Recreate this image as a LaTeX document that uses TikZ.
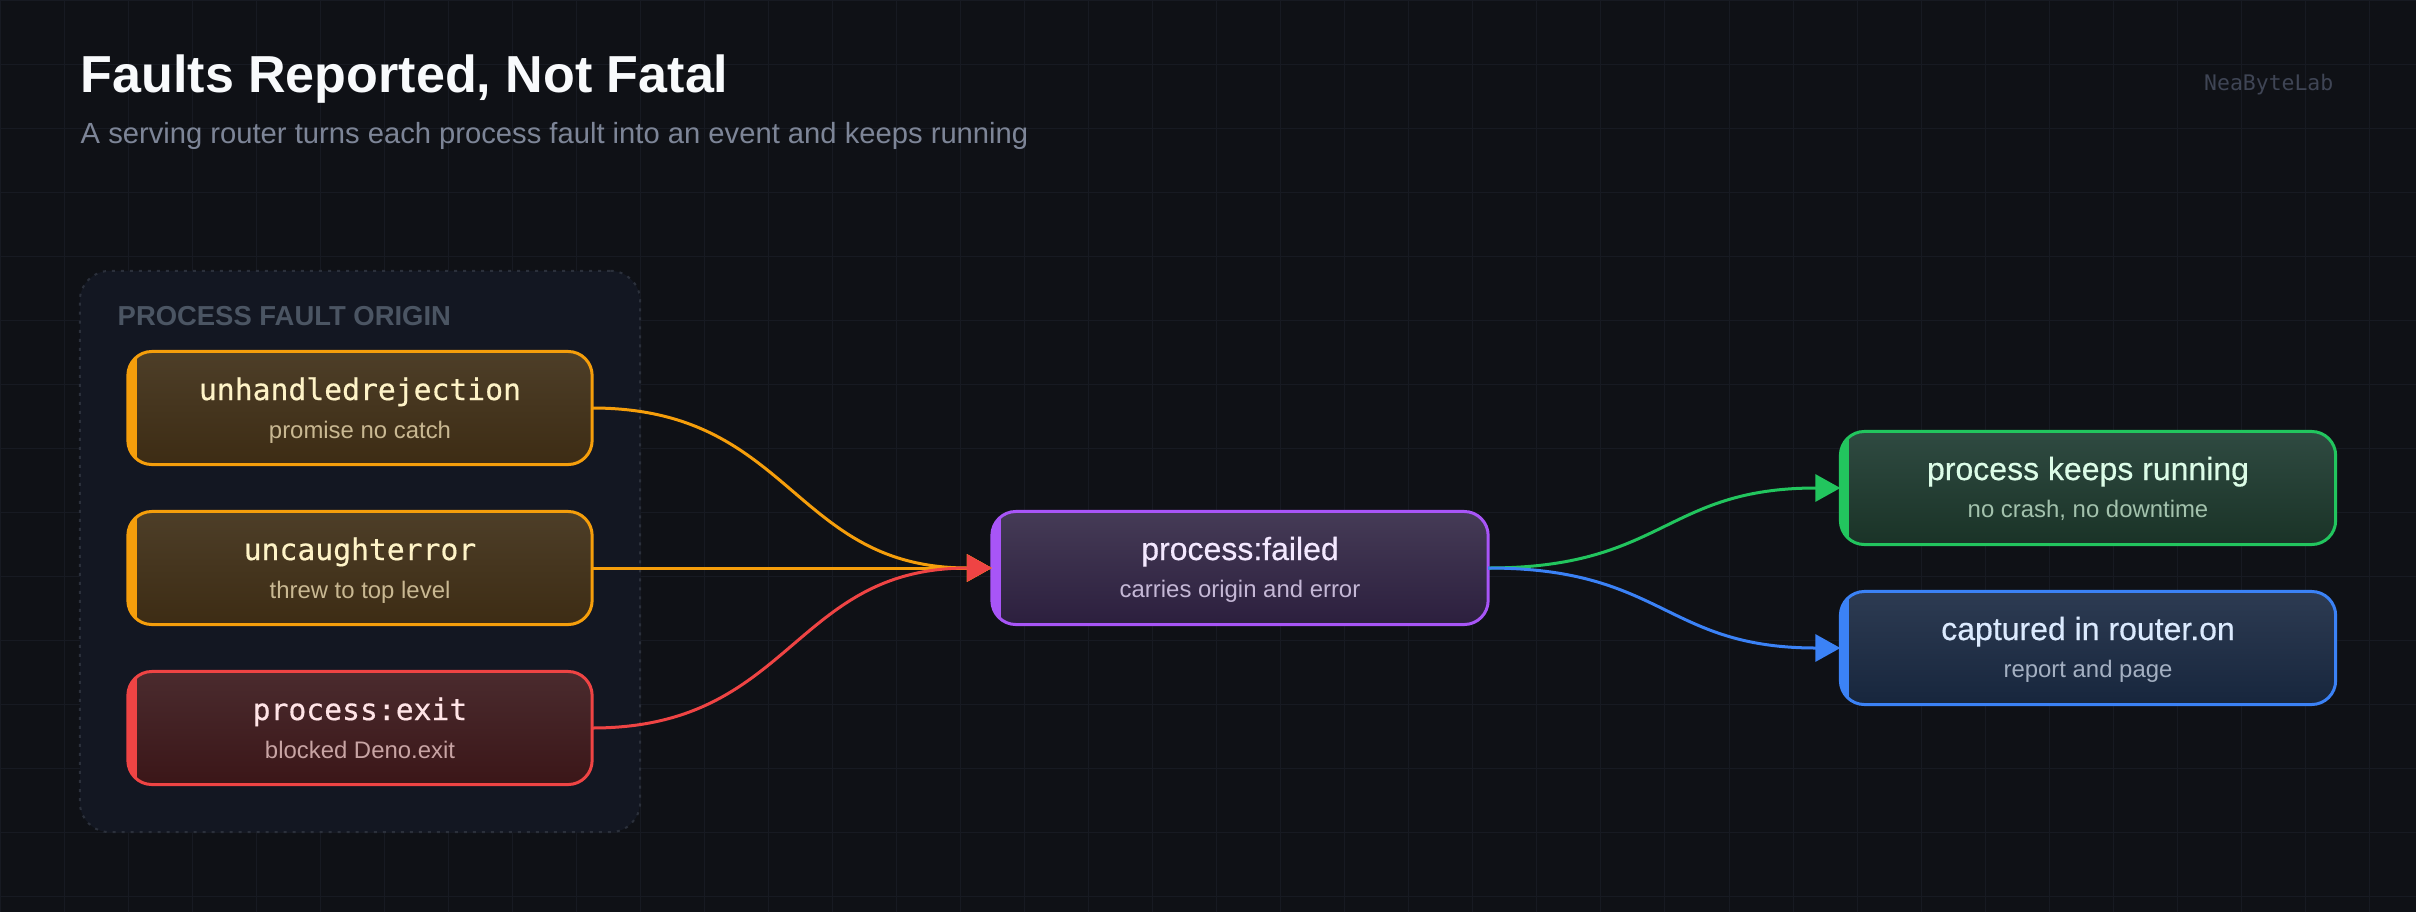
\documentclass[tikz,border=0pt]{standalone}
\usepackage{fontspec}
\setmainfont{Liberation Sans}
\newfontfamily\codefont{DejaVu Sans Mono}
\newfontfamily\codemedium[FakeBold=0.5]{DejaVu Sans Mono}
\newfontfamily\sansmedium[FakeBold=0.5]{Liberation Sans}
\usetikzlibrary{arrows.meta}

\definecolor{bgdark}{HTML}{0F1116}
\definecolor{gridgrey}{HTML}{171A22}
\definecolor{groupfill}{HTML}{131722}
\definecolor{groupedge}{HTML}{2B303B}
\definecolor{grouptext}{HTML}{4B5563}
\definecolor{headwhite}{HTML}{F8FAFC}
\definecolor{subgrey}{HTML}{7D8597}
\definecolor{brandgrey}{HTML}{3F4555}
\definecolor{amberline}{HTML}{F59E0B}
\definecolor{ambertop}{HTML}{4D3E28}
\definecolor{amberbot}{HTML}{3D2C14}
\definecolor{ambertext}{HTML}{FEF3C7}
\definecolor{ambersub}{HTML}{C9B892}
\definecolor{redline}{HTML}{EF4444}
\definecolor{redtop}{HTML}{4A2B2E}
\definecolor{redbot}{HTML}{3B1618}
\definecolor{redtext}{HTML}{FFE4E6}
\definecolor{redsub}{HTML}{C8A4A4}
\definecolor{purpleline}{HTML}{A855F7}
\definecolor{purpletop}{HTML}{453B56}
\definecolor{purplebot}{HTML}{2C1F3E}
\definecolor{purpletext}{HTML}{F3E8FF}
\definecolor{purplesub}{HTML}{C5B8D6}
\definecolor{greenline}{HTML}{22C55E}
\definecolor{greentop}{HTML}{2F4A41}
\definecolor{greenbot}{HTML}{1A3327}
\definecolor{greentext}{HTML}{DCFCE7}
\definecolor{greensub}{HTML}{A3C2AD}
\definecolor{blueline}{HTML}{3B82F6}
\definecolor{bluetop}{HTML}{2D3B52}
\definecolor{bluebot}{HTML}{17263D}
\definecolor{bluetext}{HTML}{DBEAFE}
\definecolor{bluesub}{HTML}{A4B0C2}

\def\cardbar[#1](#2){\begin{scope}\clip[rounded corners=0.24cm] (#2.north west) rectangle (#2.south east);\fill[#1] (#2.north west) rectangle ([xshift=0.09cm]#2.south west);\end{scope}}

\tikzset{
  card/.style={draw, line width=0.03cm, rounded corners=0.24cm, minimum height=1.13cm, inner sep=0pt, outer sep=0pt},
  cardtitle/.style={anchor=base, inner sep=0pt, font=\fontsize{9.1}{11}\sansmedium},
  cardcode/.style={anchor=base, inner sep=0pt, font=\fontsize{8.45}{10}\codemedium},
  cardsub/.style={anchor=base, inner sep=0pt, font=\fontsize{6.8}{8}\selectfont},
  wire/.style={line width=0.03cm, -{Triangle[length=0.25cm,width=0.27cm]}},
}

\begin{document}
\begin{tikzpicture}[x=0.01cm, y=-0.01cm]
		%%%%% START %%%%%
		\fill[bgdark] (0,0) rectangle (2416,912);
		\useasboundingbox (0,0) rectangle (2416,912);
		\draw[gridgrey, line width=0.01cm] (0,912) grid[step=0.64cm] (2416,0);
		
		\node[anchor=base west, inner sep=0pt, text=headwhite, font=\fontsize{14.8}{17}\selectfont\bfseries] (title) at (80,92) {Faults Reported, Not Fatal};
		\node[anchor=base west, inner sep=0pt, text=subgrey, font=\fontsize{8.3}{10}\selectfont] (subtitle) at (80,143) {A serving router turns each process fault into an event and keeps running};
		\node[anchor=base east, inner sep=0pt, text=brandgrey, font=\fontsize{6.1}{7}\codefont] (brand) at (2334,90) {NeaByteLab};
		
		\node[draw=groupedge, fill=groupfill, line width=0.02cm, dash pattern=on 0.03cm off 0.06cm, rounded corners=0.3cm, minimum width=5.6cm, minimum height=5.61cm] (origin) at (360,551.5) {};
		\node[anchor=base west, inner sep=0pt, text=grouptext, font=\fontsize{7.8}{9}\selectfont\bfseries] (originlabel) at (117,325) {PROCESS FAULT ORIGIN};
		
		\node[card, draw=amberline, top color=ambertop, bottom color=amberbot, minimum width=4.64cm] (rej) at (360,408) {};
		\cardbar[amberline](rej)
		\node[cardcode, text=ambertext] (rejtitle) at (360,400) {unhandledrejection};
		\node[cardsub, text=ambersub] (rejsub) at (360,438) {promise no catch};
		
		\node[card, draw=amberline, top color=ambertop, bottom color=amberbot, minimum width=4.64cm] (unc) at (360,568) {};
		\cardbar[amberline](unc)
		\node[cardcode, text=ambertext] (unctitle) at (360,560) {uncaughterror};
		\node[cardsub, text=ambersub] (uncsub) at (360,598) {threw to top level};
		
		\node[card, draw=redline, top color=redtop, bottom color=redbot, minimum width=4.64cm] (ext) at (360,728) {};
		\cardbar[redline](ext)
		\node[cardcode, text=redtext] (exttitle) at (360,720) {process:exit};
		\node[cardsub, text=redsub] (extsub) at (360,758) {blocked Deno.exit};
		
		\node[card, draw=purpleline, top color=purpletop, bottom color=purplebot, minimum width=4.96cm] (fail) at (1240,568) {};
		\cardbar[purpleline](fail)
		\node[cardtitle, text=purpletext] (failtitle) at (1240,560) {process:failed};
		\node[cardsub, text=purplesub] (failsub) at (1240,597) {carries origin and error};
		
		\node[card, draw=greenline, top color=greentop, bottom color=greenbot, minimum width=4.95cm] (keep) at (2088,488) {};
		\cardbar[greenline](keep)
		\node[cardtitle, text=greentext] (keeptitle) at (2088,480) {process keeps running};
		\node[cardsub, text=greensub] (keepsub) at (2088,517) {no crash, no downtime};
		
		\node[card, draw=blueline, top color=bluetop, bottom color=bluebot, minimum width=4.95cm] (capt) at (2088,648) {};
		\cardbar[blueline](capt)
		\node[cardtitle, text=bluetext] (capttitle) at (2088,640) {captured in router.on};
		\node[cardsub, text=bluesub] (captsub) at (2088,677) {report and page};
		
		\draw[wire, amberline] (rej.east) .. controls +(200,0) and +(-200,0) .. (fail.west);
		\draw[wire, amberline] (unc.east) -- (fail.west);
		\draw[wire, redline] (ext.east) .. controls +(200,0) and +(-200,0) .. (fail.west);
		
		\draw[wire, greenline] (fail.east) .. controls +(176,0) and +(-176,0) .. (keep.west);
		\draw[wire, blueline] (fail.east) .. controls +(176,0) and +(-176,0) .. (capt.west);
		%%%%% END %%%%%
	\end{tikzpicture}
\end{document}
